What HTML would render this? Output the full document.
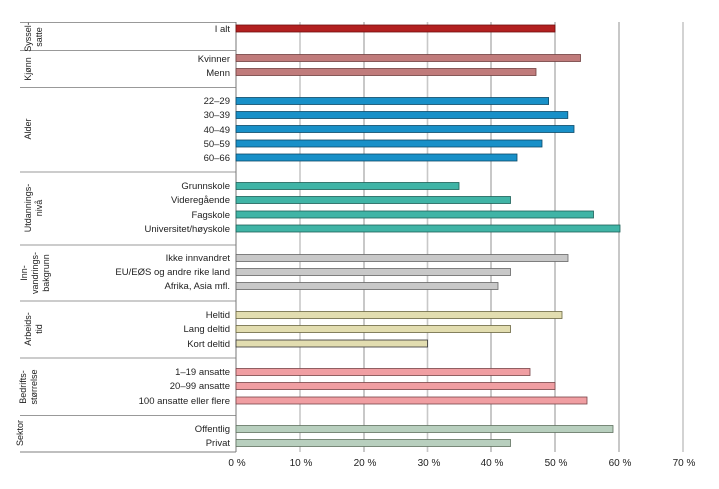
<!DOCTYPE html>
<html><head><meta charset="utf-8"><style>body{margin:0;background:#fff}svg{display:block}text{font-family:"Liberation Sans",sans-serif}</style></head><body>
<svg width="719" height="489" xmlns="http://www.w3.org/2000/svg">
<g id="grid">
<line x1="300" y1="22" x2="300" y2="452" stroke="#c8c8c8" stroke-width="1.6"/>
<line x1="364" y1="22" x2="364" y2="452" stroke="#777" stroke-width="0.8"/>
<line x1="427.5" y1="22" x2="427.5" y2="452" stroke="#c8c8c8" stroke-width="1.6"/>
<line x1="491" y1="22" x2="491" y2="452" stroke="#777" stroke-width="0.8"/>
<line x1="555" y1="22" x2="555" y2="452" stroke="#777" stroke-width="0.8"/>
<line x1="619" y1="22" x2="619" y2="452" stroke="#777" stroke-width="0.8"/>
<line x1="683" y1="22" x2="683" y2="452" stroke="#c8c8c8" stroke-width="1.6"/>
</g>
<g stroke="#999" stroke-width="1">
<line x1="20" y1="22.5" x2="236" y2="22.5"/>
<line x1="20" y1="50.5" x2="236" y2="50.5"/>
<line x1="20" y1="87.5" x2="236" y2="87.5"/>
<line x1="20" y1="172" x2="236" y2="172"/>
<line x1="20" y1="245" x2="236" y2="245"/>
<line x1="20" y1="301" x2="236" y2="301"/>
<line x1="20" y1="358" x2="236" y2="358"/>
<line x1="20" y1="415.5" x2="236" y2="415.5"/>
<line x1="20" y1="452" x2="236" y2="452" stroke="#aaa" stroke-width="1.5"/>
</g>
<line x1="236" y1="22" x2="236" y2="452" stroke="#777" stroke-width="1"/>
<g font-size="9.5" fill="#222" text-anchor="end">
<text x="230" y="32">I alt</text>
<text x="230" y="62">Kvinner</text>
<text x="230" y="76">Menn</text>
<text x="230" y="104">22–29</text>
<text x="230" y="118">30–39</text>
<text x="230" y="133">40–49</text>
<text x="230" y="147">50–59</text>
<text x="230" y="161">60–66</text>
<text x="230" y="189">Grunnskole</text>
<text x="230" y="203">Videregående</text>
<text x="230" y="218">Fagskole</text>
<text x="230" y="232">Universitet/høyskole</text>
<text x="230" y="261">Ikke innvandret</text>
<text x="230" y="275">EU/EØS og andre rike land</text>
<text x="230" y="289">Afrika, Asia mfl.</text>
<text x="230" y="318">Heltid</text>
<text x="230" y="332">Lang deltid</text>
<text x="230" y="347">Kort deltid</text>
<text x="230" y="375">1–19 ansatte</text>
<text x="230" y="389">20–99 ansatte</text>
<text x="230" y="404">100 ansatte eller flere</text>
<text x="230" y="432">Offentlig</text>
<text x="230" y="446">Privat</text>
</g>
<g font-size="9" fill="#222" text-anchor="middle">
<text transform="translate(31,37) rotate(-90)">Syssel-</text>
<text transform="translate(42,37) rotate(-90)">satte</text>
<text transform="translate(31,69) rotate(-90)">Kjønn</text>
<text transform="translate(31,129) rotate(-90)">Alder</text>
<text transform="translate(31,208) rotate(-90)">Utdannings-</text>
<text transform="translate(42,208) rotate(-90)">nivå</text>
<text transform="translate(27,273) rotate(-90)">Inn-</text>
<text transform="translate(38,273) rotate(-90)">vandrings-</text>
<text transform="translate(49,273) rotate(-90)">bakgrunn</text>
<text transform="translate(31,329) rotate(-90)">Arbeids-</text>
<text transform="translate(42,329) rotate(-90)">tid</text>
<text transform="translate(26,387) rotate(-90)">Bedrifts-</text>
<text transform="translate(37,387) rotate(-90)">størrelse</text>
<text transform="translate(23,433) rotate(-90)">Sektor</text>
</g>
<g stroke-width="0.8">
<rect x="236" y="25" width="319" height="7" fill="#b22020" stroke="#701010"/>
<rect x="236" y="54.5" width="344.5" height="7" fill="#c07b7b" stroke="#704040"/>
<rect x="236" y="68.5" width="300" height="7" fill="#c07b7b" stroke="#704040"/>
<rect x="236" y="97.5" width="312.6" height="7" fill="#1890c8" stroke="#0d4a68"/>
<rect x="236" y="111.5" width="331.8" height="7" fill="#1890c8" stroke="#0d4a68"/>
<rect x="236" y="125.5" width="338" height="7" fill="#1890c8" stroke="#0d4a68"/>
<rect x="236" y="140" width="306" height="7" fill="#1890c8" stroke="#0d4a68"/>
<rect x="236" y="154" width="281" height="7" fill="#1890c8" stroke="#0d4a68"/>
<rect x="236" y="182.5" width="223" height="7" fill="#40b4a6" stroke="#1d6058"/>
<rect x="236" y="196.5" width="274.5" height="7" fill="#40b4a6" stroke="#1d6058"/>
<rect x="236" y="211" width="357.5" height="7" fill="#40b4a6" stroke="#1d6058"/>
<rect x="236" y="225" width="384" height="7" fill="#40b4a6" stroke="#1d6058"/>
<rect x="236" y="254.5" width="332" height="7" fill="#c8c8c8" stroke="#666"/>
<rect x="236" y="268.5" width="274.5" height="7" fill="#c8c8c8" stroke="#666"/>
<rect x="236" y="282.5" width="262" height="7" fill="#c8c8c8" stroke="#666"/>
<rect x="236" y="311.5" width="326" height="7" fill="#e2ddb0" stroke="#6a6640"/>
<rect x="236" y="325.5" width="274.5" height="7" fill="#e2ddb0" stroke="#6a6640"/>
<rect x="236" y="340" width="191.5" height="7" fill="#e2ddb0" stroke="#333"/>
<rect x="236" y="368.5" width="294" height="7" fill="#f09ea2" stroke="#784448"/>
<rect x="236" y="382.5" width="319" height="7" fill="#f09ea2" stroke="#784448"/>
<rect x="236" y="397" width="351" height="7" fill="#f09ea2" stroke="#784448"/>
<rect x="236" y="425.5" width="377" height="7" fill="#b8cfbe" stroke="#607060"/>
<rect x="236" y="439.5" width="274.5" height="7" fill="#b8cfbe" stroke="#607060"/>
</g>
<g font-size="10" fill="#222" text-anchor="middle">
<text x="237" y="466">0 %</text>
<text x="301" y="466">10 %</text>
<text x="365" y="466">20 %</text>
<text x="429" y="466">30 %</text>
<text x="492" y="466">40 %</text>
<text x="556" y="466">50 %</text>
<text x="620" y="466">60 %</text>
<text x="684" y="466">70 %</text>
</g>
</svg>
</body></html>
